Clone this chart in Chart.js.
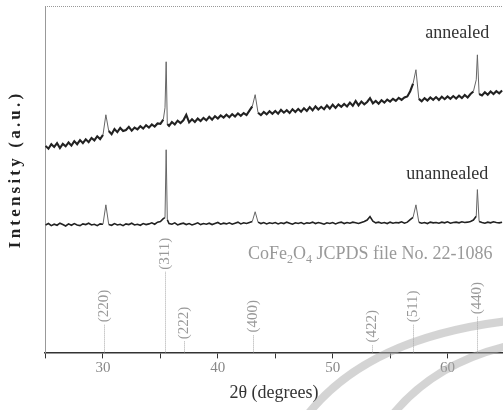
<!DOCTYPE html>
<html>
<head>
<meta charset="utf-8">
<script src="https://cdn.jsdelivr.net/npm/chart.js@4/dist/chart.umd.min.js"></script>
<style>
html,body{margin:0;padding:0;background:#fff;}
canvas{display:block;}
</style>
</head>
<body>
<canvas id="c" width="503" height="410"></canvas>
<script>
// 2θ positions (degrees)
const twoTheta = [
 25,25.25,25.5,25.75,26,26.25,26.5,26.75,
 27,27.25,27.5,27.75,28,28.25,28.5,28.75,
 29,29.25,29.5,29.75,30,30.25,30.5,30.75,
 31,31.25,31.5,31.75,32,32.25,32.5,32.75,
 33,33.25,33.5,33.75,34,34.25,34.5,34.75,
 35,35.25,35.4,35.5,35.6,35.75,36,36.25,36.5,36.75,
 37,37.25,37.5,37.75,38,38.25,38.5,38.75,
 39,39.25,39.5,39.75,40,40.25,40.5,40.75,
 41,41.25,41.5,41.75,42,42.25,42.5,42.75,
 43,43.25,43.5,43.75,44,44.25,44.5,44.75,
 45,45.25,45.5,45.75,46,46.25,46.5,46.75,
 47,47.25,47.5,47.75,48,48.25,48.5,48.75,
 49,49.25,49.5,49.75,50,50.25,50.5,50.75,
 51,51.25,51.5,51.75,52,52.25,52.5,52.75,
 53,53.25,53.5,53.75,54,54.25,54.5,54.75,
 55,55.25,55.5,55.75,56,56.25,56.5,56.75,
 57,57.25,57.5,57.75,58,58.25,58.5,58.75,
 59,59.25,59.5,59.75,60,60.25,60.5,60.75,
 61,61.25,61.5,61.75,62,62.25,62.5,62.6,62.75,
 63,63.25,63.5,63.75,64,64.25,64.5,64.75
];
// Intensity (a.u.), annealed sample
const annealed = [
 59.6,58.8,60.1,59.3,60.4,59.0,60.2,59.5,
 60.6,59.7,61.0,60.1,61.3,60.4,61.5,60.7,
 61.9,61.2,62.4,61.6,62.8,68.6,63.9,63.0,
 64.5,63.6,64.8,63.9,64.2,65.1,64.0,64.9,
 64.4,65.3,64.6,65.6,64.9,65.8,65.2,66.1,
 66.0,67.2,70.6,83.9,65.9,65.4,66.5,65.8,66.9,66.2,
 67.0,68.6,66.4,67.3,66.5,67.5,66.8,67.7,
 67.0,68.0,67.2,68.2,67.5,68.4,67.8,68.6,
 67.9,68.8,68.1,69.0,68.3,69.1,68.5,69.8,
 71.0,74.4,69.2,68.5,69.4,68.7,69.6,68.9,
 69.7,68.9,70.0,69.2,69.9,69.1,70.2,69.4,
 70.3,69.5,70.5,69.7,70.8,69.9,71.0,70.1,
 70.9,70.2,71.3,70.4,71.5,70.6,71.6,70.9,
 71.7,71.0,72.1,71.2,72.6,71.3,72.4,71.6,
 72.3,73.4,71.9,72.6,71.8,72.8,72.1,73.0,
 72.4,73.2,72.6,73.5,72.9,73.6,73.9,75.4,
 77.6,81.6,73.2,72.5,73.4,72.7,73.6,72.9,
 73.7,72.9,73.8,73.1,73.9,73.2,74.0,73.3,
 74.1,73.4,74.3,73.6,74.6,75.3,78.7,85.9,74.6,
 74.2,75.1,74.4,75.3,74.6,75.4,74.8,75.6
];
// Intensity (a.u.), unannealed sample
const unannealed = [
 36.8,37.2,36.6,37.0,36.7,37.3,36.9,36.5,
 37.1,36.7,37.2,36.8,36.6,37.1,36.9,37.3,
 36.8,37.0,36.6,37.1,37.0,42.6,36.9,36.7,
 37.2,36.8,37.0,36.6,37.1,36.9,37.3,36.8,
 37.0,36.7,37.2,36.9,37.1,37.4,37.0,37.6,
 37.8,38.6,38.9,58.5,38.3,37.2,37.0,37.4,36.8,37.1,
 37.3,36.9,37.2,36.8,37.1,37.4,36.9,37.2,
 37.0,37.3,36.9,37.2,37.5,37.0,37.3,37.1,
 37.4,37.0,37.3,37.6,37.1,37.4,37.2,37.5,
 37.8,40.6,37.6,37.2,37.5,37.1,37.4,37.2,
 37.5,37.1,37.4,37.2,37.6,37.3,37.0,37.4,
 37.2,37.5,37.1,37.4,37.3,37.6,37.2,37.5,
 37.3,37.0,37.4,37.2,37.5,37.1,37.4,37.6,
 37.2,37.5,37.3,37.6,37.4,37.2,37.5,37.8,
 38.2,39.2,37.9,37.4,37.6,37.3,37.5,37.2,
 37.6,37.3,37.5,37.4,37.7,37.3,37.6,38.3,
 39.0,42.6,37.6,37.3,37.5,37.2,37.6,37.4,
 37.5,37.3,37.6,37.4,37.7,37.3,37.5,37.6,
 37.4,37.7,37.5,37.6,37.8,38.2,39.3,47.0,37.8,
 37.5,37.3,37.6,37.4,37.7,37.5,37.4,37.6
];
// JCPDS 22-1086 reference lines
const jcpdsPos = [30.08, 35.44, 37.06, 43.06, 53.45, 56.98, 62.59];
const jcpdsHeight = [8.1, 23.3, 3.2, 5.2, 2.3, 8.1, 10.4];
const jcpdsHkl = ['(220)', '(311)', '(222)', '(400)', '(422)', '(511)', '(440)'];
// x-axis tick labels
const xTickLabels = [30, 40, 50, 60];

const SERIF = '"Liberation Serif", "DejaVu Serif", serif';

function toPoints(ys) { return twoTheta.map((t, i) => ({ x: t, y: ys[i] })); }

// steep (peak) segments are drawn thin and lighter, like the sharp spikes of the scan
function steep(ctx) { return Math.abs(ctx.p1.parsed.y - ctx.p0.parsed.y) > 2.5; }

const deco = {
  id: 'deco',
  beforeDatasetsDraw(chart) {
    const { ctx, chartArea: a, scales: { x, y } } = chart;
    ctx.save();
    ctx.strokeStyle = '#999';
    ctx.lineWidth = 1;
    ctx.setLineDash([1, 1]);
    ctx.beginPath();
    ctx.moveTo(a.left, a.top + 0.5);
    ctx.lineTo(a.right, a.top + 0.5);
    ctx.stroke();
    ctx.strokeStyle = '#aaa';
    const y0 = y.getPixelForValue(0);
    jcpdsPos.forEach((p, i) => {
      const px = Math.round(x.getPixelForValue(p)) + 0.5;
      const top = y.getPixelForValue(jcpdsHeight[i]);
      ctx.beginPath();
      ctx.moveTo(px, y0);
      ctx.lineTo(px, top);
      ctx.stroke();
      ctx.save();
      ctx.translate(px, top - 2);
      ctx.rotate(-Math.PI / 2);
      ctx.font = '15px ' + SERIF;
      ctx.fillStyle = '#999';
      ctx.textAlign = 'left';
      ctx.textBaseline = 'middle';
      ctx.fillText(jcpdsHkl[i], 0, 0);
      ctx.restore();
    });
    ctx.setLineDash([]);
    ctx.restore();
  },
  afterDraw(chart) {
    const { ctx, scales: { x, y } } = chart;
    ctx.save();
    ctx.font = '18px ' + SERIF;
    ctx.fillStyle = '#333';
    ctx.textAlign = 'center';
    ctx.textBaseline = 'middle';
    ctx.fillText('annealed', x.getPixelForValue(60.84), y.getPixelForValue(92.2));
    ctx.fillText('unannealed', x.getPixelForValue(59.97), y.getPixelForValue(51.3));
    let cx = x.getPixelForValue(42.63);
    const cy = y.getPixelForValue(28.2);
    ctx.fillStyle = '#999';
    ctx.textAlign = 'left';
    const parts = [['CoFe', 0], ['2', 1], ['O', 0], ['4', 1], [' JCPDS file No. 22-1086', 0]];
    parts.forEach(([t, sub]) => {
      ctx.font = (sub ? '12px ' : '18px ') + SERIF;
      ctx.fillText(t, cx, cy + (sub ? 5 : 0));
      cx += ctx.measureText(t).width;
    });
    const title = 'Intensity (a.u.)';
    ctx.font = 'bold 17px ' + SERIF;
    ctx.fillStyle = '#222';
    const sp = 3.2;
    let total = 0;
    for (const ch of title) total += ctx.measureText(ch).width + sp;
    total -= sp;
    ctx.translate(16, 171);
    ctx.rotate(-Math.PI / 2);
    let tx = -total / 2;
    ctx.textAlign = 'left';
    for (const ch of title) {
      ctx.fillText(ch, tx, 0);
      tx += ctx.measureText(ch).width + sp;
    }
    ctx.restore();
    // faint watermark swooshes of the scanned source
    ctx.save();
    ctx.strokeStyle = 'rgba(170,170,170,0.5)';
    ctx.lineWidth = 8;
    ctx.beginPath();
    ctx.moveTo(305, 418);
    ctx.quadraticCurveTo(365, 338, 508, 321);
    ctx.stroke();
    ctx.beginPath();
    ctx.moveTo(390, 418);
    ctx.quadraticCurveTo(432, 364, 508, 346);
    ctx.stroke();
    ctx.restore();
  }
};

new Chart(document.getElementById('c'), {
  type: 'line',
  data: {
    datasets: [
      { label: 'annealed', data: toPoints(annealed), borderColor: '#222', borderWidth: 2.1, pointRadius: 0, tension: 0,
        segment: { borderWidth: c => steep(c) ? 1 : undefined, borderColor: c => steep(c) ? '#666' : undefined } },
      { label: 'unannealed', data: toPoints(unannealed), borderColor: '#222', borderWidth: 1.6, pointRadius: 0, tension: 0,
        segment: { borderWidth: c => steep(c) ? 1 : undefined, borderColor: c => steep(c) ? '#666' : undefined } }
    ]
  },
  options: {
    responsive: false,
    animation: false,
    devicePixelRatio: 1,
    layout: { padding: { left: 45, top: 6, right: 0, bottom: 0 } },
    plugins: { legend: { display: false }, tooltip: { enabled: false } },
    scales: {
      x: {
        type: 'linear',
        min: 24.95,
        max: 64.83,
        border: { display: true, color: '#333', width: 1.5 },
        grid: { display: true, drawOnChartArea: false, drawTicks: true, tickLength: 6, color: '#333' },
        ticks: {
          stepSize: 5,
          includeBounds: false,
          autoSkip: false,
          maxRotation: 0,
          padding: 1,
          color: '#888',
          font: { family: SERIF, size: 15 },
          callback: v => (xTickLabels.includes(v) ? String(v) : '')
        },
        title: {
          display: true,
          text: '2θ (degrees)',
          color: '#333',
          font: { family: SERIF, size: 18 },
          padding: { top: 4, bottom: 6 }
        }
      },
      y: {
        min: 0,
        max: 100,
        border: { display: true, color: '#999', dash: [1, 1] },
        grid: { display: false, drawTicks: false },
        ticks: { display: false },
        title: { display: false }
      }
    }
  },
  plugins: [deco]
});
</script>
</body>
</html>
